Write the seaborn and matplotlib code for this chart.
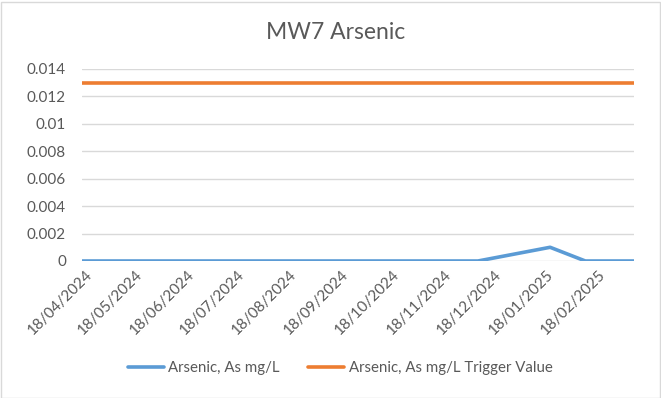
import numpy as np
import pandas as pd
import matplotlib
matplotlib.use("Agg")
import matplotlib.pyplot as plt
import matplotlib.dates as mdates
import matplotlib.transforms as mtransforms
from matplotlib.patches import Rectangle
import seaborn as sns

# Dados
sample_dates = ["2024-04-18", "2024-05-16", "2024-06-13", "2024-07-11", "2024-08-15",
                "2024-09-12", "2024-10-10", "2024-11-14", "2024-12-10", "2025-01-22",
                "2025-02-12", "2025-03-13"]
arsenic = [0, 0, 0, 0, 0, 0, 0, 0, 0, 0.001, 0, 0]
trigger = [0.013] * len(sample_dates)
series_names = ["Arsenic, As mg/L", "Arsenic, As mg/L Trigger Value"]
tick_dates = pd.date_range("2024-04-01", "2025-02-01", freq="MS") + pd.Timedelta(days=17)
y_ticks = [0, 0.002, 0.004, 0.006, 0.008, 0.01, 0.012, 0.014]
y_labels = ["0", "0.002", "0.004", "0.006", "0.008", "0.01", "0.012", "0.014"]

dates = pd.to_datetime(sample_dates)
df = pd.concat([
    pd.DataFrame({"date": dates, "value": arsenic, "series": series_names[0]}),
    pd.DataFrame({"date": dates, "value": trigger, "series": series_names[1]}),
])

sns.set_style("white")
plt.rcParams["font.family"] = ["Lato", "DejaVu Sans"]

grey = "#595959"
fig = plt.figure(figsize=(6.61, 3.98), dpi=100)
ax = fig.add_axes([82 / 661, 1 - 261 / 398, (634 - 82) / 661, (261 - 69) / 398])

sns.lineplot(data=df, x="date", y="value", hue="series",
             palette=["#5B9BD5", "#ED7D31"], linewidth=2.6, ax=ax, legend=True)

ax.set_xlim(dates[0], dates[-1])
ax.set_ylim(0, 0.014)
ax.set_yticks(y_ticks)
ax.set_yticklabels(y_labels)
ax.yaxis.grid(True, color="#D9D9D9", linewidth=1)
ax.set_axisbelow(True)
for s in ax.spines.values():
    s.set_visible(False)

ax.set_xticks(tick_dates)
ax.xaxis.set_major_formatter(mdates.DateFormatter("%d/%m/%Y"))
ax.tick_params(axis="both", length=0, labelsize=11, colors=grey)
ax.tick_params(axis="x", pad=5)
ax.tick_params(axis="y", pad=11.5)
shift = mtransforms.ScaledTranslation(3 / 100, 0, fig.dpi_scale_trans)
for lbl in ax.get_xticklabels():
    lbl.set_rotation(45)
    lbl.set_ha("right")
    lbl.set_rotation_mode("anchor")
    lbl.set_transform(lbl.get_transform() + shift)
ax.set_xlabel("")
ax.set_ylabel("")

fig.text(335.5 / 661, 1 - 39 / 398, "MW7 Arsenic", fontsize=16.5, color=grey,
         ha="center", va="baseline")

handles, labels = ax.get_legend_handles_labels()
ax.legend(handles, labels, loc="center", bbox_to_anchor=(340 / 661, 1 - 368 / 398),
          bbox_transform=fig.transFigure, ncol=2, frameon=False, fontsize=10.8,
          labelcolor=grey, handlelength=2.4, columnspacing=1.9, handletextpad=0.3)

fig.patches.append(Rectangle((0.5 / 661, 0.5 / 398), 1 - 2 / 661, 1 - 2 / 398,
                             transform=fig.transFigure, fill=False,
                             edgecolor="#D9D9D9", linewidth=1))

fig.savefig("out.png", dpi=100)
